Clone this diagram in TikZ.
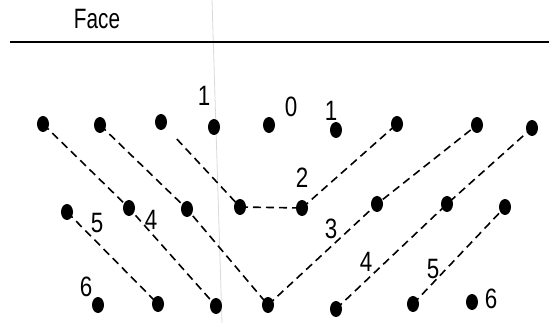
\documentclass[tikz,border=0pt]{standalone}
\usepackage{fontspec}
\setmainfont{Liberation Sans}
\newfontfamily\narrowfont[FakeStretch=0.8]{Liberation Sans}
\newfontfamily\facefont[FakeStretch=0.74]{Liberation Sans}
\usetikzlibrary{shapes.geometric,calc}
\begin{document}
\begin{tikzpicture}[x=1pt,y=-1pt,
  dot/.style={ellipse,fill=black,inner sep=0pt,minimum width=12pt,minimum height=16pt},
  dline/.style={line width=1.6pt,dash pattern=on 8pt off 5pt},
  lbl/.style={font=\narrowfont\fontsize{28}{28}\selectfont,inner sep=0pt}]
\useasboundingbox (0,0) rectangle (549,323);
% faint vertical guide
\draw[black!15,line width=0.8pt] (212,0) -- (222,323);
% header
\node[font=\facefont\fontsize{28}{28}\selectfont,inner sep=0pt,anchor=base] (face) at (97,29) {Face};
\coordinate (hl) at (10,42);
\coordinate (hr) at (549,42);
\draw[line width=1.6pt] (hl) -- (hr);
% top row
\node[dot] (t1) at (43,124) {};
\node[dot] (t2) at (100,125) {};
\node[dot] (t3) at (161,122) {};
\node[dot] (t4) at (214,127) {};
\node[dot] (t5) at (269,125) {};
\node[dot] (t6) at (336,130) {};
\node[dot] (t7) at (397,124) {};
\node[dot] (t8) at (477,125) {};
\node[dot] (t9) at (532,128) {};
% middle row
\node[dot] (m1) at (67,212) {};
\node[dot] (m2) at (129,208) {};
\node[dot] (m3) at (187,209) {};
\node[dot] (m4) at (240,207) {};
\node[dot] (m5) at (302,208) {};
\node[dot] (m6) at (377,204) {};
\node[dot] (m7) at (447,204) {};
\node[dot] (m8) at (505,207) {};
% bottom row
\node[dot] (b1) at (98,305) {};
\node[dot] (b2) at (158,304) {};
\node[dot] (b3) at (216,306) {};
\node[dot] (b4) at (268,305) {};
\node[dot] (b5) at (336,309) {};
\node[dot] (b6) at (413,304) {};
\node[dot] (b7) at (472,302) {};
% dashed connectors
\draw[dline] (t1.center) -- (m2.center) -- (b3.center);
\draw[dline] (m1.center) -- (b2.center);
\draw[dline] (t2.center) -- (m3.center) -- (b4.center);
\draw[dline] ($(t3.center)!0.2!(m4.center)$) -- (m4.center);
\draw[dline] (m4.center) -- (m5.center);
\draw[dline] (m5.center) -- (t7.center);
\draw[dline] (b4.center) -- (m6.center) -- (t8.center);
\draw[dline] (b5.center) -- (m7.center) -- (t9.center);
\draw[dline] (b6.center) -- (m8.center);
% labels
\node[lbl] (l1a) at (204,96) {1};
\node[lbl] (l0) at (291,107) {0};
\node[lbl] (l1b) at (331,111) {1};
\node[lbl] (l2) at (302,178) {2};
\node[lbl] (l3) at (331,229) {3};
\node[lbl] (l4a) at (151,220) {4};
\node[lbl] (l5a) at (97,223) {5};
\node[lbl] (l4b) at (366,262) {4};
\node[lbl] (l5b) at (433,269) {5};
\node[lbl] (l6a) at (86,287) {6};
\node[lbl] (l6b) at (491,299) {6};
\end{tikzpicture}
\end{document}
